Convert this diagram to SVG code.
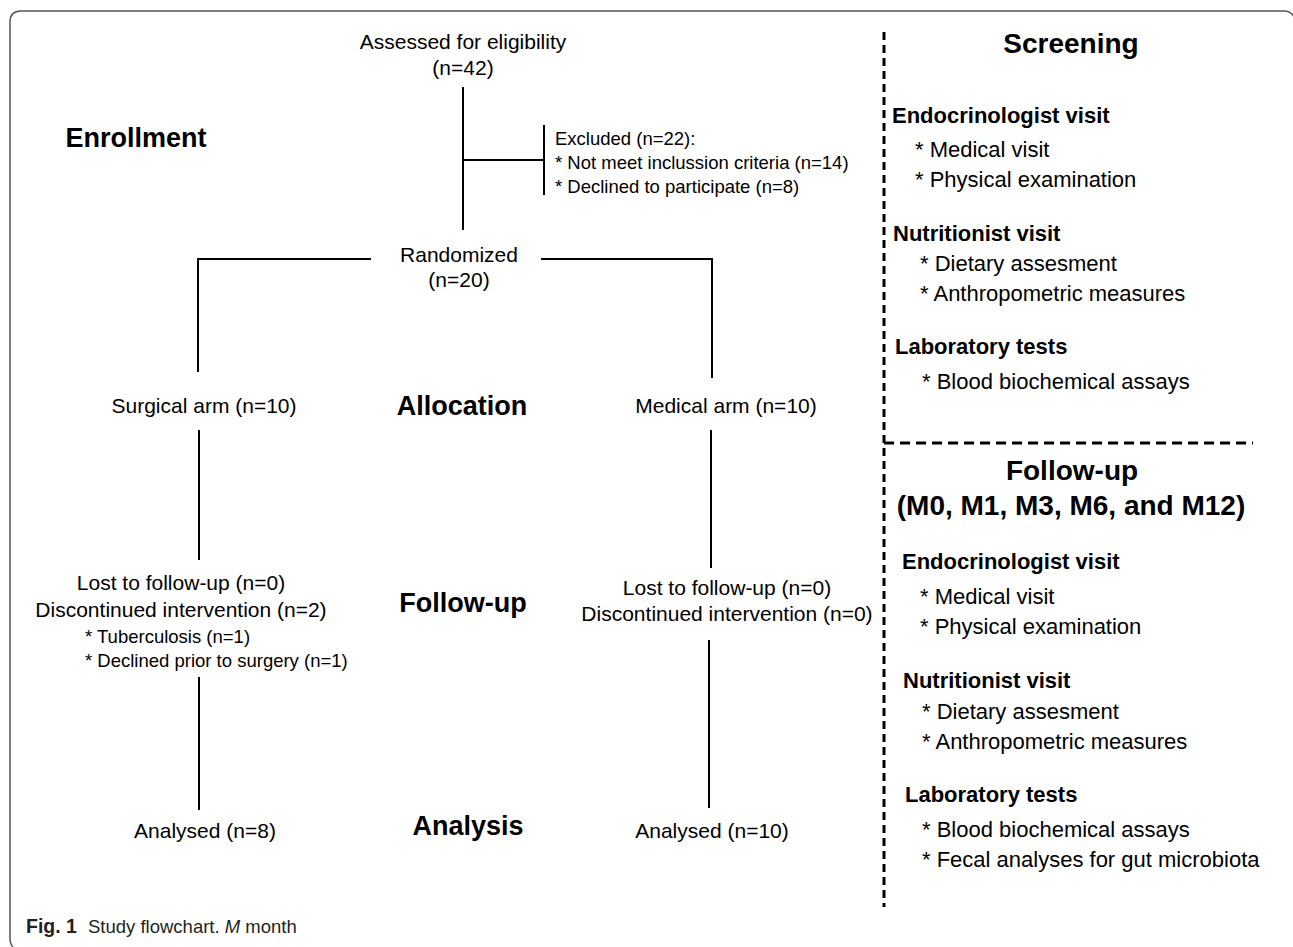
<svg xmlns="http://www.w3.org/2000/svg" width="1293" height="947" viewBox="0 0 1293 947">
<style>
text{font-family:"Liberation Sans",Arial,sans-serif;fill:#000}
.m{font-size:21px;text-anchor:middle}
.s{font-size:18.5px}
.h{font-size:27px;font-weight:bold;text-anchor:middle}
.rh{font-size:28px;font-weight:bold;text-anchor:middle}
.rb{font-size:22px;font-weight:bold}
.ri{font-size:22px}
.ln{stroke:#000;stroke-width:2;fill:none}
.dash{stroke:#000;stroke-width:3;fill:none;stroke-dasharray:8 5}
.cap{font-size:18.5px;fill:#231f20}
</style>
<rect width="1293" height="947" fill="#fff"/>
<path d="M13 947 Q10 944 10 938 V22 Q10 11 21 11 H1284 Q1291 11 1294 17" fill="none" stroke="#555" stroke-width="1.5"/>

<g id="connectors">
<path class="ln" d="M463 87 V230"/>
<path class="ln" d="M463 160 H544"/>
<path class="ln" d="M544 125 V195"/>
<path class="ln" d="M371 259 H198 V372"/>
<path class="ln" d="M541 259 H712 V378"/>
<path class="ln" d="M199 430 V560"/>
<path class="ln" d="M199 677 V810"/>
<path class="ln" d="M711 430 V568"/>
<path class="ln" d="M709 640 V808"/>
</g>

<g id="dividers">
<path class="dash" d="M884 32 V907"/>
<path class="dash" d="M884 443 H1253" style="stroke-dasharray:10 6"/>
</g>

<g id="stages">
<text class="h" x="136" y="147">Enrollment</text>
<text class="h" x="462" y="415">Allocation</text>
<text class="h" x="463" y="612">Follow-up</text>
<text class="h" x="468" y="835">Analysis</text>
</g>

<g id="assessed">
<text class="m" x="463" y="49">Assessed for eligibility</text>
<text class="m" x="463" y="75">(n=42)</text>
</g>

<g id="excluded">
<text class="s" x="555" y="145">Excluded (n=22):</text>
<text class="s" x="555" y="169">* Not meet inclussion criteria (n=14)</text>
<text class="s" x="555" y="193">* Declined to participate (n=8)</text>
</g>

<g id="randomized">
<text class="m" x="459" y="262">Randomized</text>
<text class="m" x="459" y="287">(n=20)</text>
</g>

<g id="surgical-arm">
<text class="m" x="204" y="413">Surgical arm (n=10)</text>
</g>
<g id="medical-arm">
<text class="m" x="726" y="413">Medical arm (n=10)</text>
</g>

<g id="surgical-followup">
<text class="m" x="181" y="590">Lost to follow-up (n=0)</text>
<text class="m" x="181" y="617">Discontinued intervention (n=2)</text>
<text class="s" x="85" y="643">* Tuberculosis (n=1)</text>
<text class="s" x="85" y="667">* Declined prior to surgery (n=1)</text>
</g>

<g id="medical-followup">
<text class="m" x="727" y="595">Lost to follow-up (n=0)</text>
<text class="m" x="727" y="621">Discontinued intervention (n=0)</text>
</g>

<g id="surgical-analysed">
<text class="m" x="205" y="838">Analysed (n=8)</text>
</g>
<g id="medical-analysed">
<text class="m" x="712" y="838">Analysed (n=10)</text>
</g>

<g id="screening">
<text class="rh" x="1071" y="53">Screening</text>
<text class="rb" x="892" y="123">Endocrinologist visit</text>
<text class="ri" x="915" y="157">* Medical visit</text>
<text class="ri" x="915" y="187">* Physical examination</text>
<text class="rb" x="893" y="241">Nutritionist visit</text>
<text class="ri" x="920" y="271">* Dietary assesment</text>
<text class="ri" x="920" y="301">* Anthropometric measures</text>
<text class="rb" x="895" y="354">Laboratory tests</text>
<text class="ri" x="922" y="389">* Blood biochemical assays</text>
</g>

<g id="followup-panel">
<text class="rh" x="1072" y="480">Follow-up</text>
<text class="rh" x="1071" y="515">(M0, M1, M3, M6, and M12)</text>
<text class="rb" x="902" y="569">Endocrinologist visit</text>
<text class="ri" x="920" y="604">* Medical visit</text>
<text class="ri" x="920" y="634">* Physical examination</text>
<text class="rb" x="903" y="688">Nutritionist visit</text>
<text class="ri" x="922" y="719">* Dietary assesment</text>
<text class="ri" x="922" y="749">* Anthropometric measures</text>
<text class="rb" x="905" y="802">Laboratory tests</text>
<text class="ri" x="922" y="837">* Blood biochemical assays</text>
<text class="ri" x="922" y="867">* Fecal analyses for gut microbiota</text>
</g>

<g id="caption">
<text class="cap" x="26" y="933"><tspan font-weight="bold" font-size="19.5px">Fig. 1</tspan><tspan x="88">Study flowchart. </tspan><tspan font-style="italic">M</tspan><tspan> month</tspan></text>
</g>
</svg>
